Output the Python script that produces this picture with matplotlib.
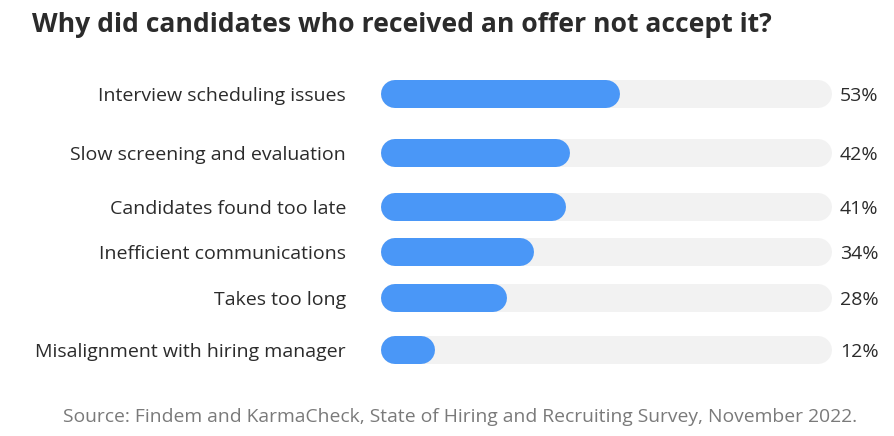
import numpy as np
import matplotlib.pyplot as plt

# data
reasons = ["Interview scheduling issues", "Slow screening and evaluation",
           "Candidates found too late", "Inefficient communications",
           "Takes too long", "Misalignment with hiring manager"]
shares = [53, 42, 41, 34, 28, 12]

# layout (pixel rows of the original picture)
row_y = [94, 153, 207, 252, 298, 350]
W, H = 895, 436
x0, x1 = 381, 832
bar_h = 28

plt.rcParams['font.family'] = ['Open Sans', 'DejaVu Sans']
txt = "#2b2b2b"

fig = plt.figure(figsize=(W / 100, H / 100), dpi=100)
ax = fig.add_axes([x0 / W, 0, (x1 - x0) / W, 1])
ax.set_xlim(0, 100)
ax.set_ylim(H, 0)
ax.axis("off")

lw = bar_h * 72 / 100
r = (bar_h / 2) / ((x1 - x0) / 100)  # cap radius in percent units

for lab, v, y in zip(reasons, shares, row_y):
    ax.plot([r, 100 - r], [y, y], color="#f2f2f2", lw=lw, solid_capstyle="round")
    ax.plot([r, max(v - r, r + 0.01)], [y, y], color="#4a97f7", lw=lw,
            solid_capstyle="round")
    fig.text(346 / W, 1 - y / H, lab, ha="right", va="center_baseline",
             fontsize=14, color=txt)
    fig.text(840 / W, 1 - y / H, "%d%%" % v, ha="left", va="center_baseline",
             fontsize=14, color=txt)

fig.text(32 / W, 1 - 22 / H, "Why did candidates who received an offer not accept it?",
         ha="left", va="center_baseline", fontsize=19.1, fontweight="bold", color=txt)
fig.text(460 / W, 1 - 415 / H,
         "Source: Findem and KarmaCheck, State of Hiring and Recruiting Survey, November 2022.",
         ha="center", va="center_baseline", fontsize=13.9, color="#7a7a7a")

fig.savefig("out.png", dpi=100)
